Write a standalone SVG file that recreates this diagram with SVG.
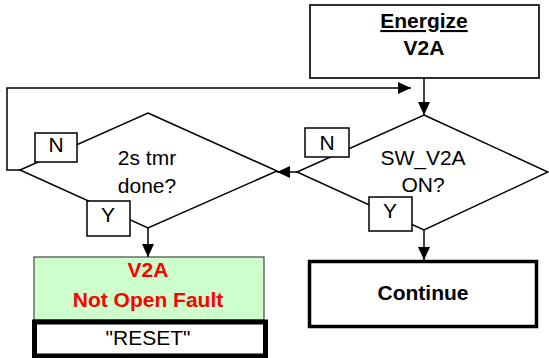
<svg xmlns="http://www.w3.org/2000/svg" width="549" height="358" viewBox="0 0 549 358">
<defs>
<marker id="ah" markerUnits="userSpaceOnUse" markerWidth="14" markerHeight="12" refX="13" refY="6" orient="auto">
<path d="M0,0 L13,6 L0,12 Z" fill="#000"/>
</marker>
<style>
text{font-family:"Liberation Sans",Arial,sans-serif;font-size:21px;fill:#000;text-anchor:middle}
.b{font-weight:bold}
.red{fill:#FF0000}
.thin{fill:#fff;stroke:#000;stroke-width:1.5}
.conn{fill:none;stroke:#000;stroke-width:1.5}
</style>
</defs>
<rect width="549" height="358" fill="#fff"/>
<g id="connectors">
<path class="conn" d="M424,78 V115" marker-end="url(#ah)"/>
<path class="conn" d="M297,172 H277" marker-end="url(#ah)"/>
<path class="conn" d="M20,170 H7 V88 H411" marker-end="url(#ah)"/>
<path class="conn" d="M148,228 V257" marker-end="url(#ah)"/>
<path class="conn" d="M424,230 V260" marker-end="url(#ah)"/>
</g>
<g id="energize">
<rect x="310" y="5" width="229" height="73" fill="#fff" stroke="#111" stroke-width="1.75"/>
<text class="b" x="424" y="28" text-decoration="underline">Energize</text>
<text class="b" x="424" y="55">V2A</text>
</g>
<g id="sw_v2a">
<polygon class="thin" points="424,115 548,172 424,230 297,172"/>
<text x="423" y="165">SW_V2A</text>
<text x="423" y="192">ON?</text>
</g>
<g id="tmr">
<polygon class="thin" points="148,113 277,171 148,228 20,170"/>
<text x="147" y="165">2s tmr</text>
<text x="147" y="193">done?</text>
</g>
<g id="label_n_left">
<rect class="thin" x="35" y="133" width="42" height="29"/>
<text x="56" y="152">N</text>
</g>
<g id="label_y_left">
<rect class="thin" x="87" y="201" width="43" height="35"/>
<text x="108" y="222">Y</text>
</g>
<g id="label_n_right">
<rect class="thin" x="305" y="128" width="44" height="29"/>
<text x="327" y="150">N</text>
</g>
<g id="label_y_right">
<rect class="thin" x="369" y="197" width="43" height="34"/>
<text x="390" y="218">Y</text>
</g>
<g id="fault">
<rect x="34" y="257" width="230" height="63" fill="#CCFFCC" stroke="#222" stroke-width="1"/>
<text class="b red" x="148" y="277">V2A</text>
<text class="b red" x="148" y="307">Not Open Fault</text>
</g>
<g id="reset">
<rect x="34.5" y="322" width="231" height="34" fill="#fff" stroke="#000" stroke-width="5"/>
<text x="148" y="345">"RESET"</text>
</g>
<g id="continue">
<rect x="309.5" y="261.5" width="227" height="65" fill="#fff" stroke="#000" stroke-width="3.5"/>
<text class="b" x="423" y="300">Continue</text>
</g>
</svg>
